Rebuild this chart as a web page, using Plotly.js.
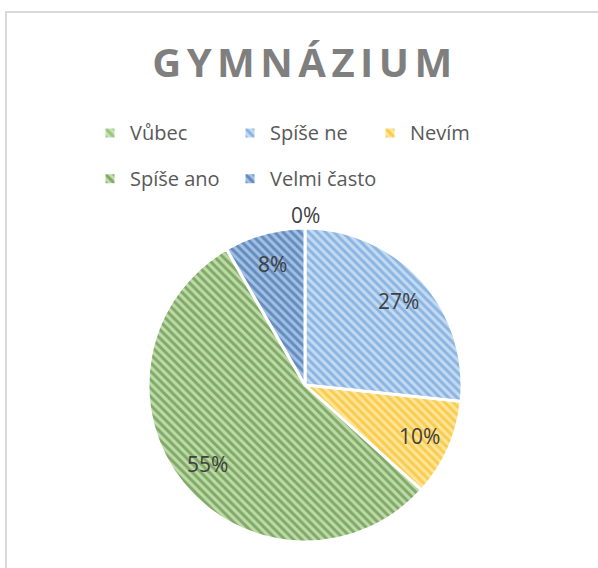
<!DOCTYPE html>
<html>
<head>
<meta charset="utf-8">
<script src="https://cdn.plot.ly/plotly-3.0.1.min.js"></script>
<style>
  html, body { margin: 0; padding: 0; background: #fff; }
  #chart { width: 598px; height: 568px; }
  .gtitle { letter-spacing: 5.5px; }
</style>
</head>
<body>
<div id="chart"></div>
<script>
const titleText = 'GYMNÁZIUM';
const categories = ['Vůbec', 'Spíše ne', 'Nevím', 'Spíše ano', 'Velmi často'];
const counts = [0, 16, 6, 33, 5];
const bgColors = ['#c5e0b4', '#c4daf2', '#ffe49a', '#bddba7', '#a1c0e4'];
const fgColors = ['#70ad47', '#5190cf', '#f2b400', '#45762a', '#265795'];

const W = 598, H = 568;
const mL = 60, mR = 60, mT = 0, mB = 0;
const gw = W - mL - mR, gh = H - mT - mB;
const px2x = p => (p - mL) / gw;
const py2y = p => 1 - (p - mT) / gh;

// pie geometry (pixels) used for the domain and label placement
const pieCx = 305, pieCy = 385, pieR = 157;

const legendLabels = categories.map(c =>
  '<span style="font-size:20px;baseline-shift:6px">' + c + '</span>');

const total = counts.reduce((a, b) => a + b, 0);
let cum = 0;
const annotations = counts.map(v => {
  const mid = (cum + v / 2) / total * 2 * Math.PI;
  cum += v;
  const rr = v === 0 ? 1.08 * pieR : 0.8 * pieR;
  return {
    xref: 'paper', yref: 'paper',
    x: px2x(pieCx + rr * Math.sin(mid)),
    y: py2y(pieCy - rr * Math.cos(mid)),
    text: Math.round(100 * v / total) + '%',
    showarrow: false, xanchor: 'center', yanchor: 'middle',
    font: { family: 'Open Sans', size: 21, color: '#404040' }
  };
});

const trace = {
  type: 'pie',
  labels: legendLabels,
  values: counts,
  sort: false,
  direction: 'clockwise',
  rotation: 0,
  domain: { x: [px2x(pieCx - pieR), px2x(pieCx + pieR)], y: [py2y(pieCy + pieR), py2y(pieCy - pieR)] },
  marker: {
    colors: bgColors,
    line: { color: '#ffffff', width: 3 },
    pattern: { shape: '\\', fillmode: 'overlay', bgcolor: bgColors, fgcolor: fgColors, size: 6, solidity: 0.48 }
  },
  textinfo: 'none',
  hoverinfo: 'label+percent'
};

const layout = {
  width: W, height: H,
  margin: { l: mL, r: mR, t: mT, b: mB, pad: 0 },
  paper_bgcolor: '#ffffff',
  plot_bgcolor: '#ffffff',
  title: {
    text: titleText,
    xref: 'container', yref: 'container',
    x: 305 / W, y: 1 - 63 / H, xanchor: 'center', yanchor: 'middle',
    font: { family: 'Open Sans', size: 40, color: '#7f7f7f', weight: 'bold' }
  },
  showlegend: true,
  legend: {
    orientation: 'h',
    x: px2x(90), xanchor: 'left',
    y: py2y(105), yanchor: 'top',
    entrywidth: 95, entrywidthmode: 'pixels',
    font: { family: 'Open Sans', size: 33, color: '#595959' },
    bgcolor: 'rgba(0,0,0,0)',
    traceorder: 'normal'
  },
  annotations: annotations,
  shapes: [{
    type: 'rect', xref: 'paper', yref: 'paper',
    x0: px2x(6), x1: px2x(700), y0: py2y(700), y1: py2y(12),
    line: { color: '#d9d9d9', width: 2 }, fillcolor: 'rgba(0,0,0,0)', layer: 'below'
  }]
};

Plotly.newPlot('chart', [trace], layout, { displayModeBar: false, staticPlot: true });
</script>
</body>
</html>
